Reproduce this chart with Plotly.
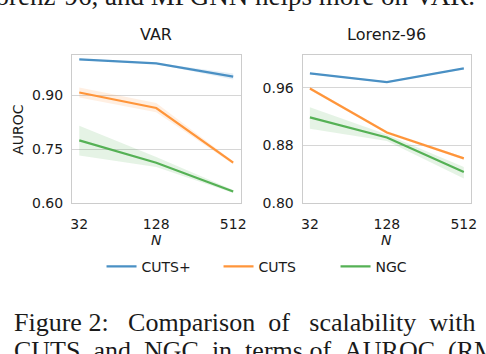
import plotly.graph_objects as go
from plotly.subplots import make_subplots

N_VALS = [32, 128, 512]
N_TEXT = ['32', '128', '512']

# VAR panel
var_cutsp = [0.999, 0.988, 0.951]
var_cutsp_hi = [1.001, 0.990, 0.960]
var_cutsp_lo = [0.997, 0.986, 0.943]
var_cuts = [0.907, 0.864, 0.712]
var_cuts_hi = [0.921, 0.878, 0.716]
var_cuts_lo = [0.893, 0.852, 0.708]
var_ngc = [0.774, 0.712, 0.632]
var_ngc_hi = [0.815, 0.728, 0.636]
var_ngc_lo = [0.732, 0.700, 0.628]

# Lorenz-96 panel
lor_cutsp = [0.980, 0.968, 0.987]
lor_cutsp_hi = [0.981, 0.969, 0.988]
lor_cutsp_lo = [0.979, 0.967, 0.986]
lor_cuts = [0.959, 0.898, 0.862]
lor_cuts_hi = [0.961, 0.900, 0.864]
lor_cuts_lo = [0.957, 0.896, 0.860]
lor_ngc = [0.919, 0.891, 0.843]
lor_ngc_hi = [0.933, 0.895, 0.850]
lor_ngc_lo = [0.903, 0.886, 0.834]

W, H = 486, 354
BLUE = '#4a90c4'; ORANGE = '#ff953a'; GREEN = '#55b155'
BANDS = {BLUE: 'rgba(31,119,180,0.12)', ORANGE: 'rgba(255,127,14,0.12)', GREEN: 'rgba(44,160,44,0.12)'}
FONT = 'DejaVu Sans'
SERIF = 'Liberation Serif'
GRID = '#d6d6d6'
NB = '\u00a0'

fig = make_subplots(rows=1, cols=2)

def add_series(col, y, hi, lo, color, name, show):
    fig.add_trace(go.Scatter(x=N_VALS, y=hi, mode='lines', line=dict(width=0),
                             showlegend=False, hoverinfo='skip'), row=1, col=col)
    fig.add_trace(go.Scatter(x=N_VALS, y=lo, mode='lines', line=dict(width=0),
                             fill='tonexty', fillcolor=BANDS[color],
                             showlegend=False, hoverinfo='skip'), row=1, col=col)
    fig.add_trace(go.Scatter(x=N_VALS, y=y, mode='lines', name=name,
                             line=dict(color=color, width=2.2), showlegend=show), row=1, col=col)

add_series(1, var_cutsp, var_cutsp_hi, var_cutsp_lo, BLUE, 'CUTS+', True)
add_series(1, var_cuts, var_cuts_hi, var_cuts_lo, ORANGE, 'CUTS', True)
add_series(1, var_ngc, var_ngc_hi, var_ngc_lo, GREEN, 'NGC', True)
add_series(2, lor_cutsp, lor_cutsp_hi, lor_cutsp_lo, BLUE, 'CUTS+', False)
add_series(2, lor_cuts, lor_cuts_hi, lor_cuts_lo, ORANGE, 'CUTS', False)
add_series(2, lor_ngc, lor_ngc_hi, lor_ngc_lo, GREEN, 'NGC', False)

ydom = [1 - 207.7 / H, 1 - 56 / H]
pad = 0.0572
xr = [1.50515 - pad, 2.70927 + pad]
ax_common = dict(showline=True, linecolor='#cccccc', linewidth=1, mirror=True,
                 tickfont=dict(family=FONT, size=14, color='#1a1a1a'), zeroline=False)
fig.update_xaxes(type='log', range=xr, tickvals=N_VALS, ticktext=N_TEXT, showgrid=False,
                 ticks='', ticklabelstandoff=8, **ax_common)
fig.update_yaxes(showgrid=True, gridcolor=GRID, gridwidth=1, ticks='', ticklabelstandoff=5,
                 **ax_common)
fig.update_xaxes(domain=[72 / W, 243 / W], row=1, col=1)
fig.update_xaxes(domain=[306 / W, 477 / W], row=1, col=2)
fig.update_yaxes(domain=ydom, range=[0.60, 1.012], tickvals=[0.60, 0.75, 0.90],
                 ticktext=['0.60', '0.75', '0.90'], row=1, col=1)
fig.update_yaxes(domain=ydom, range=[0.80, 1.006], tickvals=[0.80, 0.88, 0.96],
                 ticktext=['0.80', '0.88', '0.96'], row=1, col=2)

def px(xp, yp, text, size, family=FONT, xanchor='center', **kw):
    fig.add_annotation(x=xp / W, y=1 - yp / H, xref='paper', yref='paper', text=text,
                       showarrow=False, xanchor=xanchor, yanchor='middle',
                       font=dict(family=family, size=size, color='#1a1a1a'), **kw)

px(157.5, 35, 'VAR', 16)
px(391.5, 35, 'Lorenz-96', 16)
px(17, 132, 'AUROC', 14, textangle=-90)
px(157.5, 246, '<i>N</i>', 14)
px(391.5, 246, '<i>N</i>', 14)

# surrounding paper text
cap1 = 'Figure' + NB + '2:' + NB * 3 + 'Comparison' + NB * 2 + 'of' + NB * 3 + 'scalability' + NB * 2 + 'with'
cap2 = ('CUTS' + NB * 2 + 'and' + NB * 2 + 'NGC' + NB * 2 + 'in' + NB * 2 + 'terms' + NB + 'of'
        + NB * 2 + 'AUROC' + NB * 2 + '(RMSE)')
px(11, 330, cap1, 26, family=SERIF, xanchor='left')
px(11, 359, cap2, 26, family=SERIF, xanchor='left')
px(483, -4, 'Lorenz-96,' + NB + 'and' + NB + 'MPGNN' + NB + 'helps' + NB + 'more' + NB + 'on' + NB + 'VAR.',
   27, family=SERIF, xanchor='right')

fig.update_layout(
    width=W, height=H, margin=dict(l=0, r=0, t=0, b=0),
    paper_bgcolor='white', plot_bgcolor='white',
    legend=dict(orientation='h', x=102 / W, y=1 - 256.5 / H, xanchor='left', yanchor='top',
                traceorder='normal', font=dict(family=FONT, size=14, color='#1a1a1a'),
                entrywidth=72, bgcolor='rgba(0,0,0,0)'),
)
fig.write_html('out.html', config={'displayModeBar': False},
               post_script="document.body.style.margin='0';")
